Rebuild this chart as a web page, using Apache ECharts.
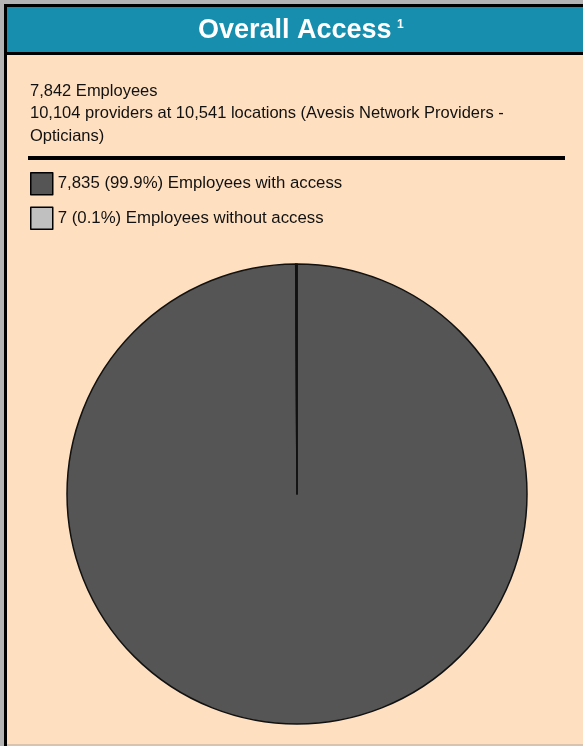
<!DOCTYPE html>
<html>
<head>
<meta charset="utf-8">
<script src="https://cdn.jsdelivr.net/npm/echarts@6/dist/echarts.min.js"></script>
<style>
  html, body { margin: 0; padding: 0; background: #b4b4b4; }
  #chart { width: 583px; height: 746px; }
</style>
</head>
<body>
<div id="chart"></div>
<script>
// Access summary figures
const totalEmployees = '7,842';
const providerCount = '10,104';
const locationCount = '10,541';
const networkName = 'Avesis Network Providers -\nOpticians';

// Pie slices
const categories = ['Employees with access', 'Employees without access'];
const counts = [7835, 7];
const countLabels = ['7,835', '7'];
const percentLabels = ['99.9%', '0.1%'];
const sliceColors = ['#555555', '#c0c0c0'];

const FONT = '"Liberation Sans", Arial, sans-serif';
const PEACH = '#fedfc0';
const TEAL = '#178ead';

const chart = echarts.init(document.getElementById('chart'), null, { renderer: 'canvas' });

const legendText = {};
categories.forEach((c, i) => {
  legendText[c] = countLabels[i] + ' (' + percentLabels[i] + ') ' + c;
});

chart.setOption({
  backgroundColor: '#b4b4b4',
  animation: false,
  graphic: [
    // frame and panel
    { type: 'rect', z: 0, shape: { x: 4, y: 4, width: 600, height: 760 }, style: { fill: '#000' } },
    { type: 'rect', z: 1, shape: { x: 7, y: 55, width: 600, height: 689 }, style: { fill: PEACH } },
    { type: 'rect', z: 1, shape: { x: 7, y: 744, width: 600, height: 2 }, style: { fill: '#d8c4ae' } },
    { type: 'rect', z: 1, shape: { x: 7, y: 7, width: 600, height: 45 }, style: { fill: TEAL } },
    // header title with footnote mark
    {
      type: 'text', z: 2, x: 198, y: 31,
      style: { text: 'Overall Access', font: 'bold 27px ' + FONT, fill: '#fff', verticalAlign: 'middle' }
    },
    {
      type: 'text', z: 2, x: 397, y: 25,
      style: { text: '1', font: 'bold 12px ' + FONT, fill: '#fff', verticalAlign: 'middle' }
    },
    // summary lines
    {
      type: 'text', z: 2, x: 30, y: 80,
      style: {
        text: totalEmployees + ' Employees\n' +
              providerCount + ' providers at ' + locationCount + ' locations (' + networkName + ')',
        font: '16.5px ' + FONT, fill: '#111', lineHeight: 22.5
      }
    },
    // separator
    { type: 'rect', z: 2, shape: { x: 28, y: 156, width: 537, height: 4 }, style: { fill: '#000' } }
  ],
  legend: {
    orient: 'vertical',
    left: 30,
    top: 172,
    padding: 0,
    itemWidth: 22,
    itemHeight: 22,
    itemGap: 11,
    icon: 'rect',
    selectedMode: false,
    itemStyle: { borderColor: '#000', borderWidth: 1.5 },
    textStyle: { fontFamily: FONT, fontSize: 16.8, color: '#111' },
    formatter: name => legendText[name],
    data: categories
  },
  series: [{
    type: 'pie',
    center: [297, 494],
    radius: [0, 230],
    startAngle: 90,
    clockwise: true,
    label: { show: false },
    labelLine: { show: false },
    emphasis: { disabled: true },
    itemStyle: { borderColor: '#111', borderWidth: 1.5 },
    data: categories.map((c, i) => ({ name: c, value: counts[i], itemStyle: { color: sliceColors[i] } }))
  }]
});
</script>
</body>
</html>
